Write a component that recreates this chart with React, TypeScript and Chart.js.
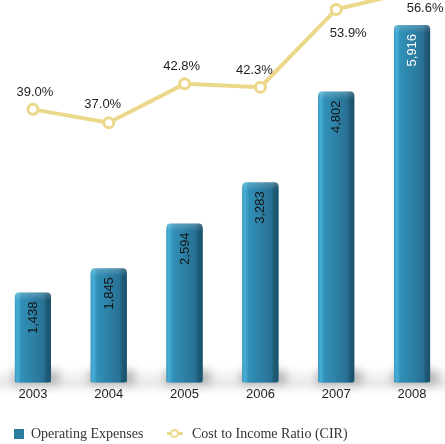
import React, { useEffect, useRef } from "react";
import { Chart, registerables } from "chart.js";

Chart.register(...registerables);

// Annual figures
const years = ["2003", "2004", "2005", "2006", "2007", "2008"];
const operatingExpenses = [1438, 1845, 2594, 3283, 4802, 5916];
const costIncomeRatio = [39.0, 37.0, 42.8, 42.3, 53.9, 56.6];

// Axis ranges
const expenseAxisMax = 6400;
const ratioAxisMin = -1.7;
const ratioAxisMax = 55.3;

const BAR_BLUE = "#2c7ca0";
const LINE_GOLD = "#ecd88a";
const SANS = '"Liberation Sans", Arial, Helvetica, sans-serif';
const SERIF = '"Liberation Serif", "Times New Roman", serif';

// Placement of the percentage captions relative to their points (px)
const pctLabelShiftX = [2, -6, -3, -6, 12, 13];
const pctLabelShiftY = [-17, -18, -17, -17, 24, 17];

const fmtThousands = (v: number) => v.toLocaleString("en-US");
const fmtPercent = (v: number) => v.toFixed(1) + "%";

// 3D-style shading on top of the bars plus a soft floor shadow beneath them
const barShading = {
  id: "barShading",
  beforeDatasetsDraw(chart: any) {
    const ctx = chart.ctx;
    const meta = chart.getDatasetMeta(0);
    const floor = chart.scales.y.getPixelForValue(0);
    const area = chart.chartArea;
    ctx.save();
    const band = ctx.createLinearGradient(0, floor - 16, 0, floor + 12);
    band.addColorStop(0, "rgba(120,120,120,0)");
    band.addColorStop(0.6, "rgba(120,120,120,0.16)");
    band.addColorStop(1, "rgba(120,120,120,0)");
    ctx.fillStyle = band;
    ctx.fillRect(area.left, floor - 16, area.width, 28);
    meta.data.forEach((el: any) => {
      const { x, base, width } = el.getProps(["x", "base", "width"], true);
      ctx.save();
      ctx.filter = "blur(5px)";
      ctx.fillStyle = "rgba(70,70,70,0.35)";
      ctx.fillRect(x - width / 2 - 2, base - 12, width + 10, 14);
      ctx.restore();
    });
    ctx.restore();
  },
  afterDatasetDraw(chart: any, args: any) {
    if (args.index !== 0) return;
    const ctx = chart.ctx;
    const meta = chart.getDatasetMeta(0);
    meta.data.forEach((el: any) => {
      const { x, y, base, width } = el.getProps(["x", "y", "base", "width"], true);
      const left = x - width / 2;
      const right = x + width / 2;
      const top = y - 4;
      ctx.save();
      const g = ctx.createLinearGradient(left, 0, right, 0);
      g.addColorStop(0, "#3a9bc3");
      g.addColorStop(0.07, "#48aed6");
      g.addColorStop(0.18, "#3190b7");
      g.addColorStop(0.55, "#2c7ea3");
      g.addColorStop(0.8, "#277194");
      g.addColorStop(0.87, "#1f5d79");
      g.addColorStop(1, "#1a4f68");
      ctx.beginPath();
      ctx.roundRect(left, top, width, base - top, [4, 4, 3, 3]);
      ctx.fillStyle = g;
      ctx.fill();
      const tg = ctx.createLinearGradient(0, top, 0, top + 8);
      tg.addColorStop(0, "rgba(255,255,255,0.22)");
      tg.addColorStop(1, "rgba(255,255,255,0)");
      ctx.fillStyle = tg;
      ctx.fill();
      ctx.restore();
    });
  },
};

// Value labels: rotated figures inside the bars, percentages by the line points
const valueLabels = {
  id: "valueLabels",
  afterDatasetsDraw(chart: any) {
    const ctx = chart.ctx;
    const bars = chart.getDatasetMeta(0).data;
    const pts = chart.getDatasetMeta(1).data;
    ctx.save();
    ctx.font = `13px ${SANS}`;
    bars.forEach((el: any, i: number) => {
      const { x, y } = el.getProps(["x", "y"], true);
      ctx.save();
      ctx.translate(x + 0.5, y + 5);
      ctx.rotate(-Math.PI / 2);
      ctx.textAlign = "right";
      ctx.textBaseline = "middle";
      ctx.fillStyle = i === bars.length - 1 ? "#ffffff" : "#141414";
      ctx.fillText(fmtThousands(operatingExpenses[i]), 0, 0);
      ctx.restore();
    });
    pts.forEach((el: any, i: number) => {
      const { x, y } = el.getProps(["x", "y"], true);
      ctx.textAlign = "center";
      ctx.textBaseline = "middle";
      ctx.fillStyle = "#1e1e1e";
      ctx.fillText(fmtPercent(costIncomeRatio[i]), x + pctLabelShiftX[i], y + pctLabelShiftY[i]);
    });
    ctx.restore();
  },
};

export default function App() {
  const canvasRef = useRef<HTMLCanvasElement | null>(null);

  useEffect(() => {
    if (!canvasRef.current) return;
    const chart = new Chart(canvasRef.current, {
      type: "bar",
      data: {
        labels: years,
        datasets: [
          {
            type: "bar",
            label: "Operating Expenses",
            data: operatingExpenses,
            backgroundColor: BAR_BLUE,
            borderWidth: 0,
            categoryPercentage: 1,
            barPercentage: 0.475,
            yAxisID: "y",
            order: 1,
          },
          {
            type: "line",
            label: "Cost to Income Ratio (CIR)",
            data: costIncomeRatio,
            borderColor: LINE_GOLD,
            borderWidth: 4,
            tension: 0,
            pointRadius: 5,
            pointBorderWidth: 3,
            pointBackgroundColor: "#ffffff",
            pointBorderColor: LINE_GOLD,
            yAxisID: "y1",
            clip: false,
            order: 0,
          } as any,
        ],
      },
      options: {
        responsive: false,
        animation: false,
        layout: { autoPadding: false, padding: { left: 0, right: 0, top: 0, bottom: 38 } },
        plugins: { legend: { display: false }, tooltip: { enabled: false } },
        scales: {
          x: {
            grid: { display: false, drawTicks: false },
            border: { display: false },
            ticks: { padding: 4, color: "#1e1e1e", font: { family: SANS, size: 13 } },
          },
          y: { display: false, min: 0, max: expenseAxisMax },
          y1: { display: false, position: "right", min: ratioAxisMin, max: ratioAxisMax },
        },
      },
      plugins: [barShading, valueLabels],
    });
    return () => chart.destroy();
  }, []);

  const legendText: React.CSSProperties = {
    position: "absolute",
    top: 425,
    height: 18,
    lineHeight: "18px",
    fontFamily: SERIF,
    fontSize: 14,
    color: "#333333",
    whiteSpace: "nowrap",
  };

  return (
    <div
      style={{
        position: "fixed",
        left: 0,
        top: 0,
        width: 445,
        height: 444,
        overflow: "hidden",
        background: "#ffffff",
      }}
    >
      <div style={{ position: "absolute", left: -5, top: 0, width: 455, height: 444 }}>
        <canvas ref={canvasRef} width={455} height={444} style={{ display: "block" }} />
      </div>
      <div
        style={{
          position: "absolute",
          left: 14,
          top: 429,
          width: 10,
          height: 10,
          background: BAR_BLUE,
        }}
      />
      <div style={{ ...legendText, left: 31 }}>Operating Expenses</div>
      <div
        style={{
          position: "absolute",
          left: 167,
          top: 432,
          width: 16,
          height: 3,
          background: LINE_GOLD,
        }}
      />
      <div
        style={{
          position: "absolute",
          left: 170,
          top: 429,
          width: 5,
          height: 5,
          borderRadius: "50%",
          border: `2.5px solid ${LINE_GOLD}`,
          background: "#ffffff",
        }}
      />
      <div style={{ ...legendText, left: 192 }}>Cost to Income Ratio (CIR)</div>
    </div>
  );
}
